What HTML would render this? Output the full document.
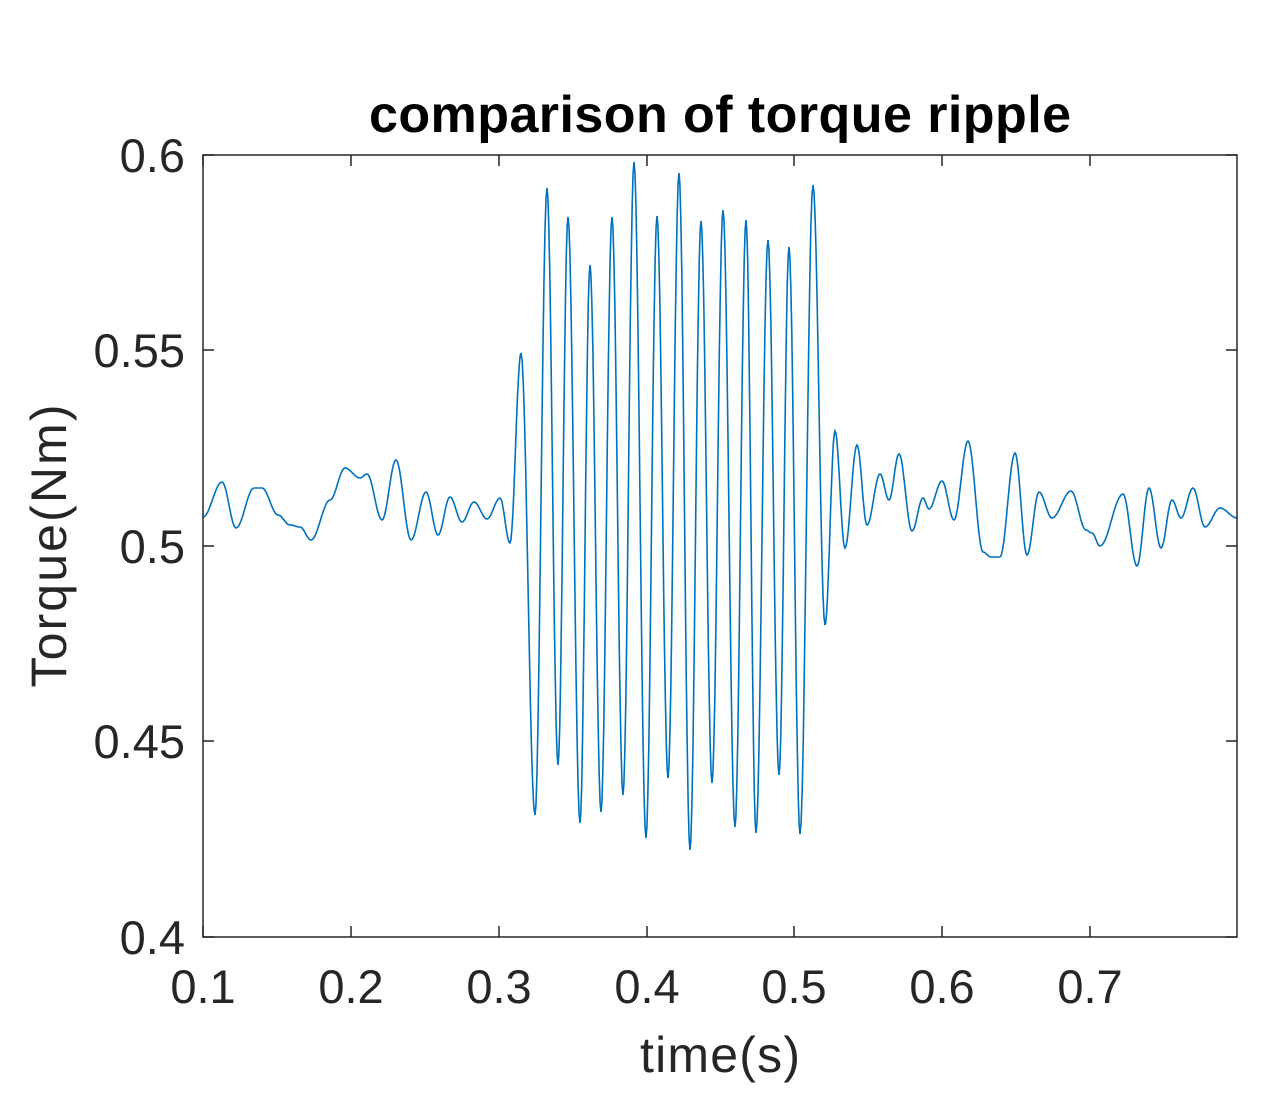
<!DOCTYPE html>
<html><head><meta charset="utf-8"><style>html,body{margin:0;padding:0;background:#fff;}svg{display:block;}</style></head>
<body>
<svg id="s" width="1267" height="1104" xmlns="http://www.w3.org/2000/svg" font-family="Liberation Sans, sans-serif">
<rect width="1267" height="1104" fill="#fff"/>
<path id="sig" fill="none" stroke="#0072BD" stroke-width="1.6"/>
<rect x="203" y="155" width="1034" height="782" fill="none" stroke="#262626" stroke-width="1.5"/>
<g id="ticks" stroke="#262626" stroke-width="1.5"></g>
<g fill="#262626" font-size="47" text-anchor="middle">
<text x="203" y="1003">0.1</text><text x="351" y="1003">0.2</text><text x="499" y="1003">0.3</text>
<text x="647" y="1003">0.4</text><text x="794" y="1003">0.5</text><text x="942" y="1003">0.6</text><text x="1090" y="1003">0.7</text>
</g>
<g fill="#262626" font-size="47" text-anchor="end">
<text x="185" y="172">0.6</text><text x="185" y="367">0.55</text><text x="185" y="563">0.5</text>
<text x="185" y="758">0.45</text><text x="185" y="954">0.4</text>
</g>
<text x="720" y="132" font-size="52" font-weight="bold" text-anchor="middle" textLength="702" fill="#000">comparison of torque ripple</text>
<text x="720" y="1072" font-size="50" text-anchor="middle" textLength="160" fill="#262626">time(s)</text>
<text transform="translate(66,546) rotate(-90)" font-size="50" text-anchor="middle" textLength="283" fill="#262626">Torque(Nm)</text>
</svg>
<script>
var p=[[203,517],[222,482],[236,528],[254,488],[262,488],[278,515],[290,525],[300,527],[311,540],[330,500],[345,468],[360,478],[367,474],[382,520],[396,460],[411,540],[426,492],[438,535],[450,497],[462,522],[474,502],[487,519],[500,498],[510,543],
[521,353],[535,815],[547,188],[558,765],[568,217],[580,823],[590,265],[601,812],[612,217],[623,795],[634,162],[646,838],[657,216],[668,778],[679,173],[690,850],[701,221],[712,783],[723,210],[735,827],[746,220],[756,833],[768,240],[779,775],[789,247],[800,834],[813,185],[825,625],
[835,431],[845,548],[857,445],[867,525],[880,474],[889,500],[899,454],[912,531],[923,498],[929,509],[942,481],[954,520],[968,441],[983,552],[991,557],[1000,557],[1015,453],[1027,555],[1039,492],[1052,518],[1071,491],[1086,530],[1092,533],[1100,546],[1123,494],[1137,566],[1149,488],[1161,548],[1172,500],[1181,518],[1193,488],[1205,527],[1220,508],[1237,518]];
var d="M"+p[0][0]+","+p[0][1];
for(var i=1;i<p.length;i++){var a=p[i-1],b=p[i];for(var k=1;k<=12;k++){var t=k/12;var x=a[0]+(b[0]-a[0])*t;var y=a[1]+(b[1]-a[1])*(1-Math.cos(Math.PI*t))/2;d+=" L"+x.toFixed(1)+","+y.toFixed(1);}}
document.getElementById("sig").setAttribute("d",d);
var g=document.getElementById("ticks"),h="";
[203,351,499,647,794,942,1090].forEach(function(x){h+='<line x1="'+x+'" y1="937" x2="'+x+'" y2="926"/><line x1="'+x+'" y1="155" x2="'+x+'" y2="166"/>';});
[155,350,546,741,937].forEach(function(y){h+='<line x1="203" y1="'+y+'" x2="214" y2="'+y+'"/><line x1="1237" y1="'+y+'" x2="1226" y2="'+y+'"/>';});
g.innerHTML=h;
</script>
</body></html>
